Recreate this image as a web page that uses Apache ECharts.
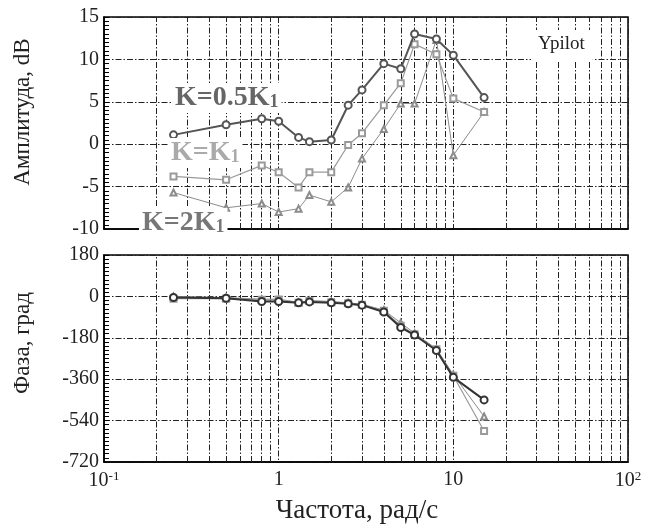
<!DOCTYPE html>
<html>
<head>
<meta charset="utf-8">
<script src="https://cdn.jsdelivr.net/npm/echarts@6/dist/echarts.min.js"></script>
<style>
  html, body { margin: 0; padding: 0; background: #fff; }
  #chart { width: 645px; height: 527px; }
</style>
</head>
<body>
<div id="chart"></div>
<script>
// частоты, рад/с
const freqs = [0.25, 0.5, 0.8, 1.0, 1.3, 1.5, 2.0, 2.5, 3, 4, 5, 6, 8, 10, 15];
// амплитуда, dB
const ampHalfK = [1.1, 2.3, 3.0, 2.7, 0.8, 0.3, 0.5, 4.6, 6.4, 9.5, 8.9, 13.0, 12.4, 10.5, 5.5];
const ampK1 = [-3.8, -4.2, -2.5, -3.3, -5.1, -3.3, -3.3, -0.1, 1.3, 4.6, 7.2, 11.8, 10.6, 5.4, 3.8];
const amp2K = [-5.7, -7.5, -7.0, -8.0, -7.6, -6.0, -6.8, -5.1, -1.7, 1.8, 4.8, 4.8, 12.3, -1.3, 3.8];
// фаза, град
const phHalfK = [-5, -8, -22, -22, -28, -24, -28, -32, -38, -68, -135, -168, -235, -352, -450];
const phK1 = [-10, -10, -15, -14, -28, -20, -25, -30, -36, -62, -128, -165, -230, -345, -585];
const ph2K = [0, -5, -12, -12, -26, -18, -22, -28, -34, -60, -115, -160, -228, -340, -522];
// вертикальные линии сетки внутри декад
const minorFreqs = [0.2, 0.3, 0.4, 0.5, 0.6, 0.7, 0.8, 0.9, 2, 3, 4, 5, 6, 7, 8, 9, 20, 30, 40, 50, 60, 70, 80, 90];

const serif = '"Liberation Serif", "DejaVu Serif", serif';
const dashDot = [6, 2, 1.5, 2];

const chart = echarts.init(document.getElementById('chart'));

const pairs = (arr) => freqs.map((f, i) => [f, arr[i]]);

const gridLinesSeries = (idx) => ({
  type: 'line',
  xAxisIndex: idx,
  yAxisIndex: idx,
  data: [],
  silent: true,
  z: 1,
  markLine: {
    silent: true,
    symbol: 'none',
    z: 1,
    label: { show: false },
    lineStyle: { color: '#222', width: 1, type: dashDot },
    data: minorFreqs.map(v => ({ xAxis: v }))
  }
});

const xAxisBase = {
  type: 'log',
  logBase: 10,
  min: 0.1,
  max: 100,
  axisLine: { show: true, onZero: false, lineStyle: { color: '#000', width: 1.5 } },
  axisTick: { show: false },
  splitLine: { show: true, lineStyle: { color: '#222', width: 1, type: dashDot } }
};

// основная ось: подписи и горизонтальные линии сетки
const yAxisBase = {
  type: 'value',
  position: 'left',
  axisLine: { show: false },
  axisTick: { show: false },
  axisLabel: { color: '#222', fontFamily: serif, fontSize: 20, margin: 5 },
  splitLine: { show: true, lineStyle: { color: '#222', width: 1, type: dashDot } }
};

// ось с мелкими рисками (без подписей), она же рисует линию оси
const tickAxis = (grid, min, max, step) => ({
  type: 'value',
  gridIndex: grid,
  position: 'left',
  min: min,
  max: max,
  interval: step,
  axisLine: { show: true, onZero: false, lineStyle: { color: '#000', width: 1.5 } },
  axisTick: { show: true, inside: true, length: 5, lineStyle: { color: '#000', width: 1 } },
  axisLabel: { show: false },
  splitLine: { show: false }
});

const subLabel = (left, top, main, color) => ({
  type: 'text', left: left, top: top, z: 100,
  style: {
    text: '{a|' + main + '}{s|1}', backgroundColor: '#fff', padding: [1, 3, 1, 3],
    rich: {
      a: { fontFamily: serif, fontSize: 28, fontWeight: 'bold', fill: color, color: color },
      s: { fontFamily: serif, fontSize: 18, fontWeight: 'bold', fill: color, color: color, padding: [9, 0, 0, 0] }
    }
  }
});

const option = {
  animation: false,
  backgroundColor: '#fff',
  grid: [
    { left: 104, top: 17, width: 524, height: 212, show: true, borderColor: '#000', borderWidth: 1.5 },
    { left: 104, top: 255, width: 524, height: 207, show: true, borderColor: '#000', borderWidth: 1.5 }
  ],
  xAxis: [
    Object.assign({}, xAxisBase, { gridIndex: 0, axisLabel: { show: false } }),
    Object.assign({}, xAxisBase, {
      gridIndex: 1,
      axisLabel: {
        margin: 8,
        color: '#222',
        fontFamily: serif,
        fontSize: 20,
        formatter: (v) => {
          const p = Math.round(Math.log10(v));
          if (p === 0) return '{b|1}';
          if (p === 1) return '{b|10}';
          return '{b|10}{s|' + p + '}';
        },
        rich: {
          b: { fontFamily: serif, fontSize: 20, color: '#222' },
          s: { fontFamily: serif, fontSize: 13, color: '#222', verticalAlign: 'top', padding: [0, 0, 9, 0] }
        }
      }
    })
  ],
  yAxis: [
    Object.assign({}, yAxisBase, { gridIndex: 0, min: -10, max: 15, interval: 5 }),
    Object.assign({}, yAxisBase, { gridIndex: 1, min: -720, max: 180, interval: 180 }),
    tickAxis(0, -10, 15, 0.5),
    tickAxis(1, -720, 180, 18)
  ],
  series: [
    gridLinesSeries(0),
    gridLinesSeries(1),
    {
      name: 'K=2K1', type: 'line', xAxisIndex: 0, yAxisIndex: 0, z: 3,
      data: pairs(amp2K), symbol: 'emptyTriangle', symbolSize: 6,
      lineStyle: { color: '#8c8c8c', width: 1 }, itemStyle: { color: '#8c8c8c' }
    },
    {
      name: 'K=K1', type: 'line', xAxisIndex: 0, yAxisIndex: 0, z: 3,
      data: pairs(ampK1), symbol: 'emptyRect', symbolSize: 6,
      lineStyle: { color: '#9a9a9a', width: 1.2 }, itemStyle: { color: '#9a9a9a' }
    },
    {
      name: 'K=0.5K1', type: 'line', xAxisIndex: 0, yAxisIndex: 0, z: 4,
      data: pairs(ampHalfK), symbol: 'emptyCircle', symbolSize: 7,
      lineStyle: { color: '#555', width: 2 }, itemStyle: { color: '#555', borderWidth: 1.5 }
    },
    {
      name: 'K=2K1 фаза', type: 'line', xAxisIndex: 1, yAxisIndex: 1, z: 3,
      data: pairs(ph2K), symbol: 'emptyTriangle', symbolSize: 6,
      lineStyle: { color: '#8c8c8c', width: 1 }, itemStyle: { color: '#8c8c8c' }
    },
    {
      name: 'K=K1 фаза', type: 'line', xAxisIndex: 1, yAxisIndex: 1, z: 3,
      data: pairs(phK1), symbol: 'emptyRect', symbolSize: 6,
      lineStyle: { color: '#9a9a9a', width: 1.2 }, itemStyle: { color: '#9a9a9a' }
    },
    {
      name: 'K=0.5K1 фаза', type: 'line', xAxisIndex: 1, yAxisIndex: 1, z: 4,
      data: pairs(phHalfK), symbol: 'emptyCircle', symbolSize: 7,
      lineStyle: { color: '#333', width: 2 }, itemStyle: { color: '#333', borderWidth: 1.5 }
    }
  ],
  graphic: [
    subLabel(172, 83, 'K=0.5K', '#666'),
    subLabel(168, 138, 'K=K', '#aaa'),
    subLabel(139, 208, 'K=2K', '#777'),
    {
      type: 'text', left: 531, top: 30, z: 100,
      style: {
        text: 'Ypilot', font: '19px ' + serif, fill: '#222',
        backgroundColor: '#fff', padding: [5, 8, 8, 7]
      }
    },
    {
      type: 'text', x: 23, y: 112, rotation: Math.PI / 2, z: 100,
      style: { text: 'Амплитуда, dB', font: '23px ' + serif, fill: '#222', align: 'center', verticalAlign: 'middle' }
    },
    {
      type: 'text', x: 23, y: 343, rotation: Math.PI / 2, z: 100,
      style: { text: 'Фаза, град', font: '23px ' + serif, fill: '#222', align: 'center', verticalAlign: 'middle' }
    },
    {
      type: 'text', x: 357, y: 511, z: 100,
      style: { text: 'Частота, рад/с', font: '27px ' + serif, fill: '#222', align: 'center', verticalAlign: 'middle' }
    }
  ]
};

chart.setOption(option);
</script>
</body>
</html>
